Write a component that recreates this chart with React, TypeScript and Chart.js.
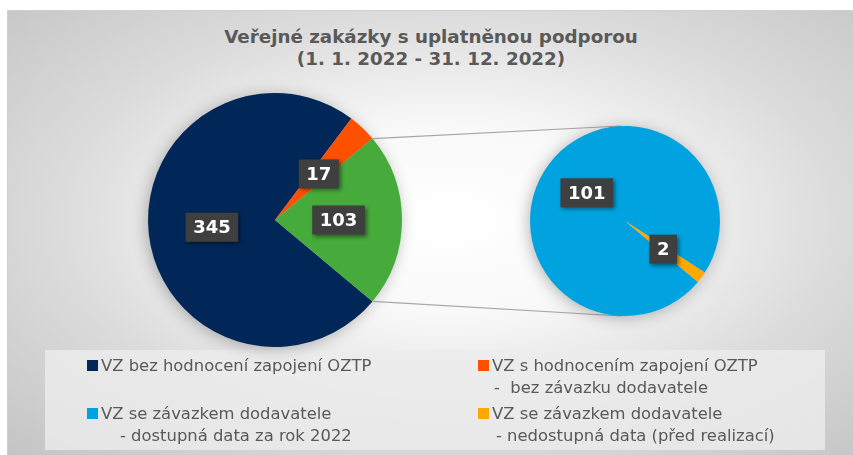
import React, { useEffect, useRef } from "react";
import { Chart, registerables } from "chart.js";

Chart.register(...registerables);

// ---- data ----
const titleLines = ["Veřejné zakázky s uplatněnou podporou", "(1. 1. 2022 - 31. 12. 2022)"];

const mainLabels = [
  "VZ bez hodnocení zapojení OZTP",
  "VZ s hodnocením zapojení OZTP - bez závazku dodavatele",
  "VZ se závazkem dodavatele",
];
const mainValues = [345, 17, 103];
const mainColors = ["#002757", "#ff5000", "#47ab3c"];

const subLabels = [
  "VZ se závazkem dodavatele - dostupná data za rok 2022",
  "VZ se závazkem dodavatele - nedostupná data (před realizací)",
];
const subValues = [101, 2];
const subColors = ["#00a3e0", "#ffa800"];

const legendLines = [
  ["VZ bez hodnocení zapojení OZTP"],
  ["VZ s hodnocením zapojení OZTP", "-  bez závazku dodavatele"],
  ["VZ se závazkem dodavatele", "- dostupná data za rok 2022"],
  ["VZ se závazkem dodavatele", "- nedostupná data (před realizací)"],
];
const legendColors = [mainColors[0], mainColors[1], subColors[0], subColors[1]];

// ---- helpers ----
const sum = (a: number[]) => a.reduce((s, v) => s + v, 0);
// Excel pie-of-pie: the "other" slice is centred on 3 o'clock
const rotationDeg = 90 + (mainValues[2] / sum(mainValues)) * 180;

const backdrop = {
  id: "backdrop",
  beforeDatasetsDraw(chart: any) {
    const arc = chart.getDatasetMeta(0).data[0];
    if (!arc) return;
    const { x, y, outerRadius } = arc.getProps(["x", "y", "outerRadius"], true);
    const ctx = chart.ctx;
    ctx.save();
    ctx.shadowColor = "rgba(0,0,0,0.30)";
    ctx.shadowBlur = 16;
    ctx.shadowOffsetX = -2;
    ctx.shadowOffsetY = 2;
    ctx.beginPath();
    ctx.arc(x, y, outerRadius - 1, 0, Math.PI * 2);
    ctx.fillStyle = "#cccccc";
    ctx.fill();
    ctx.restore();
  },
};

const boxLabels = {
  id: "boxLabels",
  afterDatasetsDraw(chart: any) {
    const ctx = chart.ctx;
    const meta = chart.getDatasetMeta(0);
    const ds = chart.data.datasets[0];
    meta.data.forEach((arc: any, i: number) => {
      const p = arc.getCenterPoint(true);
      const text = String(ds.data[i]);
      ctx.save();
      ctx.font = "bold 18px 'DejaVu Sans', Verdana, sans-serif";
      const w = ctx.measureText(text).width + 15;
      const h = 29;
      ctx.shadowColor = "rgba(0,0,0,0.45)";
      ctx.shadowBlur = 4;
      ctx.shadowOffsetX = 2;
      ctx.shadowOffsetY = 2;
      ctx.fillStyle = "#3f3f3f";
      ctx.fillRect(p.x - w / 2, p.y - h / 2, w, h);
      ctx.shadowColor = "transparent";
      ctx.fillStyle = "#ffffff";
      ctx.textAlign = "center";
      ctx.textBaseline = "middle";
      ctx.fillText(text, p.x, p.y + 1);
      ctx.restore();
    });
  },
};

const makeConnector = (getMain: () => any) => ({
  id: "connector",
  beforeDatasetsDraw(chart: any) {
    const main = getMain();
    if (!main) return;
    const other = main.getDatasetMeta(0).data[2];
    const sub = chart.getDatasetMeta(0).data[0];
    if (!other || !sub) return;
    const o = other.getProps(["x", "y", "outerRadius", "startAngle", "endAngle"], true);
    const s = sub.getProps(["x", "y", "outerRadius"], true);
    const ctx = chart.ctx;
    ctx.save();
    ctx.strokeStyle = "#a6a6a6";
    ctx.lineWidth = 1.2;
    ctx.beginPath();
    ctx.moveTo(o.x + o.outerRadius * Math.cos(o.startAngle), o.y + o.outerRadius * Math.sin(o.startAngle));
    ctx.lineTo(s.x - 4, s.y - s.outerRadius);
    ctx.moveTo(o.x + o.outerRadius * Math.cos(o.endAngle), o.y + o.outerRadius * Math.sin(o.endAngle));
    ctx.lineTo(s.x - 4, s.y + s.outerRadius);
    ctx.stroke();
    ctx.restore();
  },
});

const W = 848;
const H = 445;

export default function App() {
  const mainRef = useRef<HTMLCanvasElement>(null);
  const subRef = useRef<HTMLCanvasElement>(null);

  useEffect(() => {
    const mainChart = new Chart(mainRef.current!, {
      type: "pie",
      data: {
        labels: mainLabels,
        datasets: [{ data: mainValues, backgroundColor: mainColors, borderWidth: 0 }],
      },
      options: {
        responsive: false,
        animation: false,
        events: [],
        rotation: rotationDeg,
        layout: { padding: { left: 141, right: W - 395, top: 83, bottom: H - 337 } },
        plugins: { legend: { display: false }, tooltip: { enabled: false }, title: { display: false } },
      },
      plugins: [backdrop, boxLabels],
    } as any);

    const subChart = new Chart(subRef.current!, {
      type: "pie",
      data: {
        labels: subLabels,
        datasets: [{ data: subValues, backgroundColor: subColors, borderWidth: 0 }],
      },
      options: {
        responsive: false,
        animation: false,
        events: [],
        rotation: rotationDeg,
        layout: { padding: { left: 523, right: W - 713, top: 116, bottom: H - 306 } },
        plugins: { legend: { display: false }, tooltip: { enabled: false }, title: { display: false } },
      },
      plugins: [makeConnector(() => mainChart), backdrop, boxLabels],
    } as any);

    return () => {
      subChart.destroy();
      mainChart.destroy();
    };
  }, []);

  const legendPos = [
    { x: 87, y: 355 },
    { x: 478, y: 355 },
    { x: 87, y: 403 },
    { x: 478, y: 403 },
  ];
  const indents = [0, 2, 19, 4];

  return (
    <div style={{ position: "absolute", left: 0, top: 0, width: 853, height: 455, overflow: "hidden" }}>
      <div
        style={{
          position: "absolute",
          left: 7,
          top: 10,
          width: W,
          height: H,
          boxSizing: "border-box",
          borderTop: "1px solid #d0d0d0",
          borderLeft: "1px solid #d0d0d0",
          background:
            "radial-gradient(ellipse farthest-corner at 52% 47%, #ffffff 0%, #f9f9f9 28%, #dcdcdc 62%, #c4c4c4 100%)",
        }}
      />
      <div
        style={{
          position: "absolute",
          left: 7,
          top: 26,
          width: W,
          textAlign: "center",
          fontFamily: "'DejaVu Sans', Verdana, sans-serif",
          fontWeight: "bold",
          fontSize: 18.3,
          lineHeight: "21.5px",
          color: "#595959",
          whiteSpace: "pre",
        }}
      >
        {titleLines.map((t, i) => (
          <div key={i}>{t}</div>
        ))}
      </div>
      <div
        style={{
          position: "absolute",
          left: 45,
          top: 350,
          width: 780,
          height: 100,
          background: "rgba(236,236,236,0.8)",
        }}
      />
      <canvas ref={mainRef} width={W} height={H} style={{ position: "absolute", left: 7, top: 10, width: W, height: H }} />
      <canvas ref={subRef} width={W} height={H} style={{ position: "absolute", left: 7, top: 10, width: W, height: H }} />
      {legendLines.map((lines, i) => (
        <div
          key={i}
          style={{
            position: "absolute",
            left: legendPos[i].x,
            top: legendPos[i].y,
            fontFamily: "'DejaVu Sans', Verdana, sans-serif",
            fontSize: 16.4,
            lineHeight: "21.5px",
            color: "#595959",
            whiteSpace: "pre",
          }}
        >
          <div style={{ display: "flex", alignItems: "center" }}>
            <span style={{ display: "inline-block", width: 11, height: 11, background: legendColors[i], marginRight: 3 }} />
            <span>{lines[0]}</span>
          </div>
          {lines[1] && <div style={{ paddingLeft: 14 + indents[i] }}>{lines[1]}</div>}
        </div>
      ))}
    </div>
  );
}
